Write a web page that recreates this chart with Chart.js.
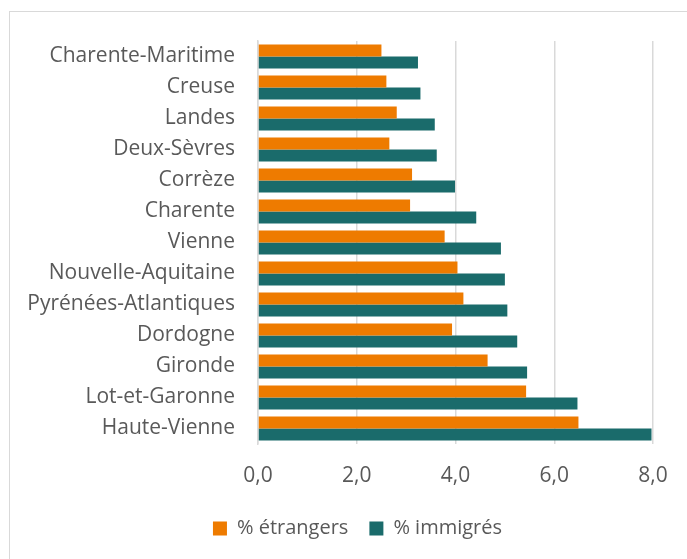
<!DOCTYPE html>
<html>
<head>
<meta charset="utf-8">
<script src="https://cdn.jsdelivr.net/npm/chart.js@4/dist/chart.umd.min.js"></script>
<style>
  html, body { margin: 0; padding: 0; background: #fff; }
  #wrap { position: relative; width: 687px; height: 559px; overflow: hidden; }
  #frame { position: absolute; left: 9px; top: 11px; width: 700px; height: 600px; border: 1.5px solid #d9d9d9; box-sizing: border-box; }
  canvas { position: absolute; left: 0; top: 0; }
</style>
</head>
<body>
<div id="wrap">
  <div id="frame"></div>
  <canvas id="myBarChart" width="687" height="559"></canvas>
</div>
<script>
const departements = [
  "Charente-Maritime", "Creuse", "Landes", "Deux-Sèvres", "Corrèze", "Charente",
  "Vienne", "Nouvelle-Aquitaine", "Pyrénées-Atlantiques", "Dordogne", "Gironde",
  "Lot-et-Garonne", "Haute-Vienne"
];
const etrangers = [2.50, 2.60, 2.81, 2.66, 3.12, 3.08, 3.78, 4.04, 4.16, 3.93, 4.65, 5.43, 6.49];
const immigres = [3.24, 3.29, 3.58, 3.62, 3.99, 4.42, 4.92, 5.00, 5.05, 5.25, 5.45, 6.47, 7.97];
const xTicks = [0, 2, 4, 6, 8];

const textColor = "#595959";
const gridColor = "#d9d9d9";
const fontFamily = "'Open Sans', sans-serif";

// the legend in the original sits a bit right of the centre
const legendShift = {
  id: "legendShift",
  afterLayout(chart) {
    chart.legend.left += 31;
    chart.legend.right += 31;
  },
};

function createBarChart() {
  const ctx = document.getElementById("myBarChart").getContext("2d");

  new Chart(ctx, {
    type: "bar",
    data: {
      labels: departements,
      datasets: [
        {
          label: "% étrangers",
          data: etrangers,
          backgroundColor: "#ee7b00",
          borderWidth: 0,
        },
        {
          label: "% immigrés",
          data: immigres,
          backgroundColor: "#1a6b6b",
          borderWidth: 0,
        },
      ],
    },
    options: {
      indexAxis: "y",
      responsive: false,
      animation: false,
      categoryPercentage: 0.78,
      barPercentage: 1.0,
      layout: {
        padding: { top: 41, right: 34, bottom: 10.5, left: 0 },
      },
      plugins: {
        tooltip: { enabled: false },
        legend: {
          position: "bottom",
          labels: {
            color: textColor,
            font: { family: fontFamily, size: 20 },
            boxWidth: 14,
            boxHeight: 14,
            padding: 21,
          },
        },
      },
      scales: {
        x: {
          min: 0,
          max: 8,
          afterBuildTicks: (axis) => {
            axis.ticks = xTicks.map((v) => ({ value: v }));
          },
          afterFit: (axis) => {
            axis.height = 53.5;
          },
          ticks: {
            color: textColor,
            font: { family: fontFamily, size: 21 },
            padding: 19,
            maxRotation: 0,
            callback: (value) => value.toFixed(1).replace(".", ","),
          },
          grid: { color: gridColor, lineWidth: 1.5, drawTicks: false },
          border: { display: false },
        },
        y: {
          afterFit: (axis) => {
            axis.width = 258;
          },
          ticks: {
            color: textColor,
            font: { family: fontFamily, size: 21 },
            padding: 23,
          },
          grid: { display: false, drawTicks: false },
          border: { display: true, color: gridColor, width: 1.5 },
        },
      },
    },
    plugins: [legendShift],
  });
}

document.addEventListener("DOMContentLoaded", function () {
  createBarChart();
});
</script>
</body>
</html>
